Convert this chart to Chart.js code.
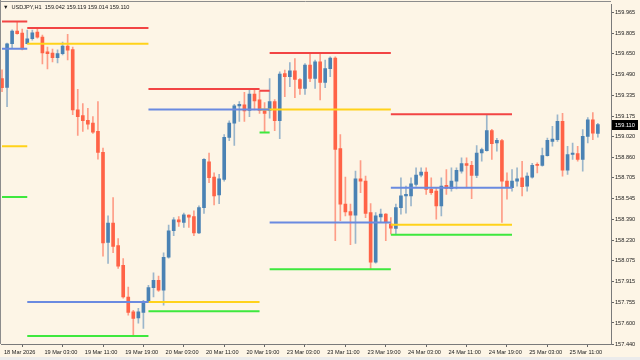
<!DOCTYPE html>
<html>
<head>
<meta charset="utf-8">
<script src="https://cdn.jsdelivr.net/npm/chart.js@4.4.1/dist/chart.umd.min.js"></script>
<style>
html, body { margin: 0; padding: 0; background: #fdf5e6; }
</style>
</head>
<body>
<canvas id="chart" width="640" height="360"></canvas>
<script>
// USDJPY H1 candles, bar 0 = 18 Mar 19:00
var opens = [159.461,159.393,159.725,159.821,159.806,159.725,159.763,159.814,159.776,159.663,
  159.655,159.620,159.650,159.708,159.680,159.222,159.179,159.143,159.121,159.058,
  158.899,158.214,158.360,158.189,158.038,157.798,157.684,157.639,157.680,157.760,
  157.869,157.924,157.849,158.100,158.302,158.385,158.365,158.421,158.410,158.285,
  158.478,158.826,158.710,158.574,158.693,159.013,159.121,159.252,159.260,159.217,
  159.343,159.298,159.217,159.217,159.285,159.139,159.499,159.474,159.519,159.453,
  159.385,159.562,159.461,159.587,159.431,159.536,159.617,158.927,158.504,158.448,
  158.421,158.697,158.680,158.440,158.062,158.408,158.428,158.353,158.319,158.478,
  158.567,158.567,158.655,158.725,158.748,158.617,158.604,158.491,158.648,158.622,
  158.680,158.756,158.814,158.799,158.723,158.894,158.912,159.065,158.970,158.988,
  158.680,158.629,158.680,158.705,158.642,158.710,158.806,158.799,158.874,158.982,
  158.995,159.134,158.763,158.882,158.889,158.844,159.020,159.146,159.042];
var highs = [159.527,159.731,159.831,159.889,159.836,159.829,159.829,159.844,159.791,159.700,
  159.685,159.678,159.738,159.796,159.700,159.378,159.270,159.234,159.171,159.285,
  158.932,158.415,158.554,158.242,158.090,157.873,157.697,157.712,157.773,157.886,
  157.982,157.957,158.134,158.345,158.402,158.410,158.436,158.423,158.453,158.491,
  158.852,158.894,158.743,158.731,159.033,159.139,159.264,159.285,159.355,159.373,
  159.373,159.366,159.277,159.461,159.300,159.512,159.524,159.582,159.612,159.461,
  159.574,159.655,159.600,159.655,159.600,159.625,159.625,159.033,158.710,158.504,
  158.756,158.836,158.718,158.508,158.440,158.466,158.433,158.402,158.504,158.705,
  158.642,158.705,158.781,158.781,158.781,158.705,158.629,158.705,158.768,158.781,
  158.781,158.856,158.856,158.831,158.950,158.932,159.184,159.073,159.005,158.997,
  158.743,158.768,158.781,158.831,158.743,158.816,158.818,158.932,159.007,159.096,
  159.184,159.196,158.945,158.970,158.945,159.071,159.164,159.202,159.119];
var lows = [159.360,159.247,159.688,159.799,159.678,159.723,159.753,159.768,159.572,159.534,
  159.587,159.580,159.640,159.602,159.186,159.028,159.058,159.075,159.043,158.846,
  158.108,158.053,158.136,158.015,157.788,157.660,157.496,157.599,157.559,157.756,
  157.798,157.841,157.735,158.093,158.264,158.335,158.327,158.327,158.264,158.279,
  158.433,158.667,158.499,158.508,158.680,158.988,158.952,159.134,159.134,159.171,
  159.222,159.194,159.050,159.159,159.063,159.003,159.322,159.398,159.315,159.340,
  159.340,159.436,159.385,159.298,159.391,159.474,158.226,158.378,158.415,158.196,
  158.206,158.592,158.402,158.005,158.055,158.365,158.226,158.277,158.272,158.428,
  158.436,158.491,158.642,158.712,158.579,158.579,158.390,158.415,158.579,158.604,
  158.620,158.741,158.629,158.546,158.705,158.831,158.907,158.844,158.907,158.365,
  158.542,158.604,158.642,158.567,158.604,158.703,158.743,158.793,158.869,158.945,
  158.982,158.718,158.731,158.844,158.831,158.756,158.970,158.995,159.014];
var closes = [159.391,159.725,159.821,159.801,159.685,159.763,159.808,159.776,159.655,159.650,
  159.620,159.650,159.708,159.676,159.222,159.171,159.139,159.113,159.053,158.899,
  158.209,158.360,158.183,158.032,157.798,157.680,157.635,157.684,157.760,157.869,
  157.924,157.849,158.100,158.302,158.385,158.370,158.423,158.406,158.285,158.478,
  158.846,158.705,158.567,158.697,159.013,159.121,159.252,159.264,159.214,159.343,
  159.290,159.217,159.194,159.285,159.139,159.494,159.474,159.519,159.453,159.385,
  159.562,159.461,159.587,159.431,159.536,159.617,158.920,158.504,158.446,158.421,
  158.697,158.680,158.433,158.062,158.415,158.428,158.365,158.322,158.478,158.567,
  158.579,158.660,158.725,158.748,158.617,158.592,158.491,158.642,158.625,158.680,
  158.761,158.814,158.799,158.723,158.894,158.920,159.065,158.965,158.990,158.680,
  158.629,158.680,158.697,158.637,158.718,158.799,158.799,158.874,158.990,159.000,
  159.134,158.763,158.882,158.894,158.844,159.020,159.146,159.045,159.110];

// day level lines: [start bar, end bar, price]
var redLevels = [[0,5,159.895],[5,29,159.846],[29,51,159.381],[51,53,159.368],[53,77,159.655],[77,101,159.189]];
var blueLevels = [[0,5,159.688],[5,29,157.760],[29,53,159.224],[53,77,158.365],[77,101,158.629]];
var yellowLevels = [[0,5,158.945],[5,29,159.725],[29,51,157.760],[51,77,159.224],[77,101,158.347]];
var greenLevels = [[0,5,158.559],[5,29,157.501],[29,51,157.690],[51,53,159.050],[53,77,158.009],[77,101,158.272]];

var xTickBars = [0,8,16,24,32,40,48,56,64,72,80,88,96,104,112];
var xTickLabels = ['18 Mar 2026','19 Mar 03:00','19 Mar 11:00','19 Mar 19:00','20 Mar 03:00',
  '20 Mar 11:00','20 Mar 19:00','23 Mar 03:00','23 Mar 11:00','23 Mar 19:00','24 Mar 03:00',
  '24 Mar 11:00','24 Mar 19:00','25 Mar 03:00','25 Mar 11:00'];
var yTicks = [159.965,159.805,159.650,159.490,159.335,159.175,159.020,158.860,158.705,
  158.545,158.390,158.230,158.075,157.915,157.755,157.600,157.440];

var symbolText = 'USDJPY,H1';

var FONT = "'Liberation Sans', Arial, sans-serif";
var FSIZE = 5.6;
var BULL = '#4a82b4', BEAR = '#ff6347';

function isBull(i) { return closes[i] >= opens[i]; }

function levelData(levels) {
  var out = [];
  levels.forEach(function(s) {
    out.push({x: s[0], y: s[2]});
    out.push({x: s[1], y: s[2]});
    out.push({x: s[1], y: null});
  });
  return out;
}

function levelSet(levels, color) {
  return {
    type: 'line',
    data: levelData(levels),
    borderColor: color,
    borderWidth: 2,
    pointRadius: 0,
    spanGaps: false,
    order: 0
  };
}

var lastIdx = closes.length - 1;

var chartDecor = {
  id: 'chartDecor',
  beforeDraw: function(chart) {
    var ctx = chart.ctx;
    ctx.save();
    ctx.fillStyle = '#fdf5e6';
    ctx.fillRect(0, 0, chart.width, chart.height);
    ctx.fillStyle = '#ebebeb';
    ctx.fillRect(0, 357, chart.width, 3);
    ctx.restore();
  },
  afterDraw: function(chart) {
    var ctx = chart.ctx;
    var area = chart.chartArea;
    ctx.save();
    // frame left and top
    ctx.strokeStyle = '#8c8c8c';
    ctx.lineWidth = 1;
    ctx.beginPath();
    ctx.moveTo(0.5, 0);
    ctx.lineTo(0.5, area.bottom);
    ctx.moveTo(0, 1.5);
    ctx.lineTo(area.right, 1.5);
    ctx.stroke();

    // header
    ctx.fillStyle = '#1a1a1a';
    ctx.font = FSIZE + 'px ' + FONT;
    ctx.textBaseline = 'middle';
    ctx.textAlign = 'left';
    ctx.fillText('\u25BC', 3, 7.5);
    var vals = [opens[lastIdx], highs[lastIdx], lows[lastIdx], closes[lastIdx]]
      .map(function(v) { return v.toFixed(3); }).join(' ');
    ctx.fillText(symbolText + '  ' + vals, 11.5, 7.5);

    // bid label
    var y = chart.scales.y.getPixelForValue(closes[lastIdx]);
    ctx.fillStyle = '#000000';
    ctx.fillRect(612, Math.round(y) - 5, 26, 10);
    ctx.fillStyle = '#ffffff';
    ctx.fillText(closes[lastIdx].toFixed(3), 615, Math.round(y));
    ctx.restore();
  }
};

var barIdx = opens.map(function(v, i) { return i; });

new Chart(document.getElementById('chart'), {
  type: 'bar',
  data: {
    datasets: [
      levelSet(redLevels, '#f24444'),
      levelSet(blueLevels, '#6a8ae0'),
      levelSet(yellowLevels, '#ffd21a'),
      levelSet(greenLevels, '#3ee83e'),
      {
        type: 'bar',
        data: barIdx.map(function(i) { return {x: i, y: [opens[i], closes[i]]}; }),
        backgroundColor: barIdx.map(function(i) { return isBull(i) ? BULL : BEAR; }),
        barThickness: 3,
        minBarLength: 1,
        grouped: false,
        order: 2
      },
      {
        type: 'bar',
        data: barIdx.map(function(i) { return {x: i, y: [lows[i], highs[i]]}; }),
        backgroundColor: barIdx.map(function(i) { return isBull(i) ? 'rgba(74,130,180,0.55)' : 'rgba(255,99,71,0.6)'; }),
        barThickness: 1,
        grouped: false,
        order: 3
      }
    ]
  },
  options: {
    responsive: false,
    devicePixelRatio: 1,
    animation: false,
    layout: { padding: { left: 1, top: 2, right: 0, bottom: 0 } },
    plugins: {
      legend: { display: false },
      tooltip: { enabled: false }
    },
    scales: {
      x: {
        type: 'linear',
        position: 'bottom',
        min: -0.2,
        max: 120.6,
        offset: false,
        afterBuildTicks: function(scale) {
          scale.ticks = xTickBars.map(function(v) { return {value: v}; });
        },
        afterFit: function(scale) { scale.height = 16; },
        ticks: {
          autoSkip: false,
          maxRotation: 0,
          align: 'start',
          labelOffset: 2,
          padding: 2,
          color: '#1a1a1a',
          font: { family: FONT, size: FSIZE },
          callback: function(v) { return xTickLabels[xTickBars.indexOf(v)]; }
        },
        grid: { drawOnChartArea: false, drawTicks: true, tickLength: 3, color: '#666666' },
        border: { display: true, color: '#7a7a7a', width: 1 }
      },
      y: {
        type: 'linear',
        position: 'right',
        min: 157.44,
        max: 160.025,
        afterBuildTicks: function(scale) {
          scale.ticks = yTicks.map(function(v) { return {value: v}; });
        },
        afterFit: function(scale) { scale.width = 29; },
        ticks: {
          autoSkip: false,
          padding: 1,
          color: '#1a1a1a',
          font: { family: FONT, size: FSIZE },
          callback: function(v) { return v.toFixed(3); }
        },
        grid: { drawOnChartArea: false, drawTicks: true, tickLength: 3, color: '#666666' },
        border: { display: true, color: '#7a7a7a', width: 1 }
      }
    }
  },
  plugins: [chartDecor]
});
</script>
</body>
</html>
